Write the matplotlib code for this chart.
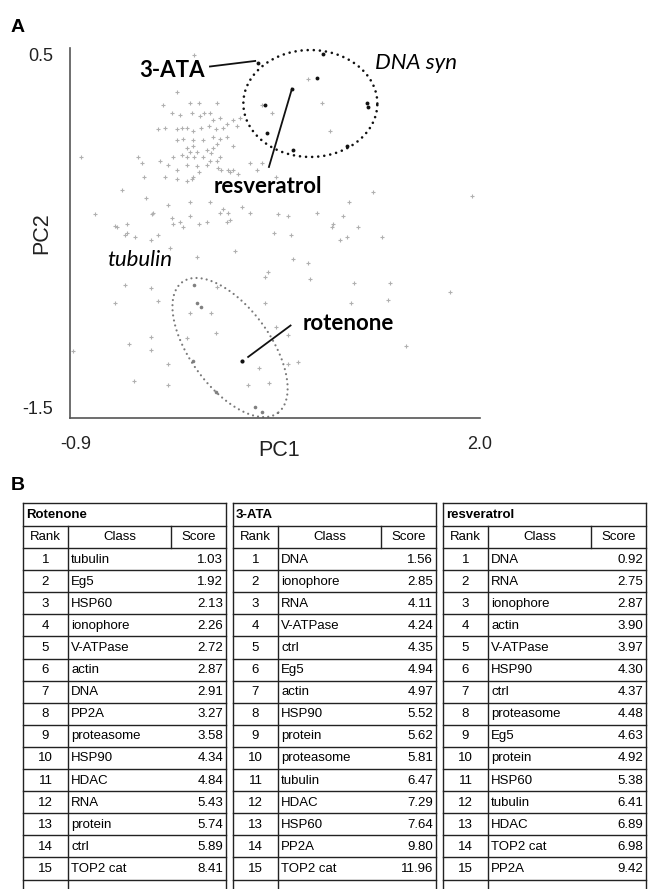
import numpy as np
import matplotlib
matplotlib.use("Agg")
import matplotlib.pyplot as plt
import matplotlib.transforms as mtransforms

# ---------------- data ----------------
grey_pts = [(-0.02,0.46),(-0.14,0.26),(-0.24,0.19),(-0.18,0.15),(-0.05,0.20),(0.01,0.20),(0.05,0.15),(0.09,0.15),
    (-0.28,0.06),(-0.23,0.07),(-0.14,0.06),(-0.11,0.07),(-0.07,0.07),(-0.03,0.05),(0.03,0.07),(0.08,0.08),(0.13,0.06),
    (0.11,0.11),(-0.14,0.00),(-0.10,0.01),(-0.03,0.00),(0.04,0.00),(0.11,0.02),(0.14,-0.02),(-0.07,-0.04),(-0.03,-0.03),
    (0.00,-0.06),(0.07,-0.05),(0.11,-0.04),(-0.17,-0.09),(-0.11,-0.08),(-0.07,-0.09),(-0.02,-0.09),(0.04,-0.09),
    (-0.82,-0.09),(-0.42,-0.09),(-0.26,-0.11),(-0.21,-0.13),(-0.07,-0.13),(0.00,-0.14),(0.07,-0.13),(0.14,-0.11),
    (0.14,0.20),(-0.12,0.14),(-0.04,0.15),(0.02,0.13),(0.16,0.12),(0.25,0.11),(0.18,0.07),(0.21,0.09),(0.28,0.08),
    (0.30,0.12),(0.46,0.19),(0.53,0.15),(0.16,0.01),(0.21,0.02),(0.25,-0.03),(-0.05,-0.06),(0.10,-0.07),(0.16,-0.09),
    (0.09,-0.11),(-0.14,-0.16),(0.01,-0.17),(0.15,-0.15),(0.22,-0.16),(0.25,-0.16),(0.37,-0.12),(0.46,-0.12),
    (-0.38,-0.20),(-0.23,-0.20),(-0.14,-0.21),(-0.07,-0.22),(-0.03,-0.20),(-0.53,-0.27),(-0.36,-0.31),(-0.21,-0.35),
    (-0.05,-0.33),(-0.72,-0.40),(-0.32,-0.40),(-0.18,-0.42),(-0.05,-0.41),(0.07,-0.44),(0.16,-0.39),(0.22,-0.39),
    (0.32,-0.36),(0.37,-0.39),(0.57,-0.40),(0.64,-0.41),(0.85,-0.39),(1.07,-0.33),(1.24,-0.28),(-0.58,-0.46),
    (-0.50,-0.45),(-0.17,-0.45),(-0.12,-0.44),(0.01,-0.45),(0.21,-0.44),(0.96,-0.45),(0.95,-0.47),(1.03,-0.41),
    (1.14,-0.47),(-0.51,-0.51),(-0.44,-0.52),(-0.28,-0.51),(-0.33,-0.54),(0.54,-0.50),(0.66,-0.51),(1.06,-0.52),
    (1.01,-0.54),(-0.19,-0.58),(0.27,-0.60),(0.78,-0.66),(0.00,-0.63),(0.48,-0.74),(0.80,-0.75),(-0.39,-0.12),
    (-0.04,-0.21),(0.09,-0.33),(-0.31,-0.39),(-0.10,-0.47),(-0.57,-0.47),(-0.50,-0.50),(-0.51,-0.78),(-0.33,-0.80),
    (0.17,-0.16),(0.23,-0.17),(0.29,-0.18),(0.42,-0.16),(0.56,-0.20),(0.18,-0.37),(0.23,-0.43),(1.31,-0.52),
    (0.68,-0.64),(0.50,-0.71),(1.11,-0.77),(0.14,-0.79),(-0.58,-0.88),(-0.28,-0.87),(-0.05,-0.93),(0.10,-0.93),
    (0.13,-1.04),(-0.33,-1.06),(-0.48,-1.10),(-0.33,-1.13),(-0.07,-1.07),(-0.21,-1.21),(-0.45,-1.30),(-0.21,-1.32),
    (0.48,-0.88),(1.09,-0.88),(1.35,-0.86),(0.56,-1.01),(0.64,-1.05),(0.71,-1.20),(0.64,-1.21),(0.44,-1.23),
    (0.36,-1.32),(0.51,-1.31),(-0.88,-1.14),(1.94,-0.30),(1.79,-0.82),(1.36,-0.77),(1.48,-1.11),(0.78,0.33),
    (0.88,0.20),(0.94,0.05)]
grey_x = [p[0] for p in grey_pts]
grey_y = [p[1] for p in grey_pts]

# DNA-synthesis class members (black)
dna_x = [0.43, 0.67, 0.85, 0.48, 1.20, 1.21, 1.06, 0.68, 0.49, 0.89]
dna_y = [0.42, 0.28, 0.34, 0.19, 0.20, 0.18, -0.03, -0.05, 0.04, 0.47]
# tubulin class members (dark grey)
tub_x = [-0.02, 0.00, 0.03, -0.03, 0.13, 0.41, 0.46]
tub_y = [-0.78, -0.88, -0.90, -1.19, -1.36, -1.44, -1.47]
# highlighted compounds
rot_pt = (0.32, -1.19)
ata_pt = (0.43, 0.42)
res_pt = (0.67, 0.28)

# table B
rot_classes = ["tubulin","Eg5","HSP60","ionophore","V-ATPase","actin","DNA","PP2A","proteasome",
               "HSP90","HDAC","RNA","protein","ctrl","TOP2 cat"]
rot_scores = [1.03,1.92,2.13,2.26,2.72,2.87,2.91,3.27,3.58,4.34,4.84,5.43,5.74,5.89,8.41]
ata_classes = ["DNA","ionophore","RNA","V-ATPase","ctrl","Eg5","actin","HSP90","protein",
               "proteasome","tubulin","HDAC","HSP60","PP2A","TOP2 cat"]
ata_scores = [1.56,2.85,4.11,4.24,4.35,4.94,4.97,5.52,5.62,5.81,6.47,7.29,7.64,9.80,11.96]
res_classes = ["DNA","RNA","ionophore","actin","V-ATPase","HSP90","ctrl","proteasome","Eg5",
               "protein","HSP60","tubulin","HDAC","TOP2 cat","PP2A"]
res_scores = [0.92,2.75,2.87,3.90,3.97,4.30,4.37,4.48,4.63,4.92,5.38,6.41,6.89,6.98,9.42]
table_titles = ["Rotenone", "3-ATA", "resveratrol"]
ranks = list(range(1, 16))

# ---------------- figure ----------------
W, H = 651, 889
fig = plt.figure(figsize=(W/100, H/100), dpi=100)
fig.patch.set_facecolor("white")

ov = fig.add_axes([0, 0, 1, 1])
ov.set_xlim(0, W); ov.set_ylim(H, 0); ov.axis("off")

ARIAL = ["Liberation Sans", "DejaVu Sans"]
CAL = ["Lato", "DejaVu Sans"]

# ---- panel A ----
ax_l, ax_r, ax_t, ax_b = 70, 480, 48, 418
ax = fig.add_axes([ax_l/W, 1-ax_b/H, (ax_r-ax_l)/W, (ax_b-ax_t)/H])
ax.patch.set_alpha(0)
ax.set_xlim(-0.9, 2.0)
ax.set_ylim(-1.5, 0.5)
for s in ["top", "right"]:
    ax.spines[s].set_visible(False)
for s in ["left", "bottom"]:
    ax.spines[s].set_color("#555555")
    ax.spines[s].set_linewidth(1.2)
ax.set_xticks([-0.9, 2.0]); ax.set_xticklabels(["-0.9", "2.0"])
ax.set_yticks([-1.5, 0.5]); ax.set_yticklabels(["-1.5", "0.5"])
ax.tick_params(length=0, labelsize=13, colors="#222222")
ax.tick_params(axis="x", pad=13)
ax.tick_params(axis="y", pad=12)
for lab in ax.get_xticklabels() + ax.get_yticklabels():
    lab.set_family(ARIAL)
ax.get_yticklabels()[0].set_va("bottom")
ax.get_yticklabels()[1].set_va("top")
xl0 = ax.get_xticklabels()[0]
xl0.set_transform(xl0.get_transform() + mtransforms.ScaledTranslation(6/100, 0, fig.dpi_scale_trans))

ax.plot(grey_x, grey_y, "+", color="#b0b0b0", ms=3.3, mew=0.8, clip_on=False)
ax.plot(tub_x, tub_y, "o", color="#808080", ms=2.6, mew=0)
ax.plot(dna_x, dna_y, "o", color="#111111", ms=2.8, mew=0)
ax.plot([rot_pt[0]], [rot_pt[1]], "o", color="#111111", ms=3, mew=0)

t = np.linspace(0, 2*np.pi, 400)
dna_c, dna_u, dna_v = (0.80, 0.20), (0.474, 0.0), (0.0, 0.289)
ex = dna_c[0] + dna_u[0]*np.cos(t) + dna_v[0]*np.sin(t)
ey = dna_c[1] + dna_u[1]*np.cos(t) + dna_v[1]*np.sin(t)
ax.plot(ex, ey, color="#111111", lw=1.9, ls=(0, (0.01, 2.3)), dash_capstyle="round")
tub_c, tub_u, tub_v = (0.232, -1.119), (0.337, -0.354), (-0.229, -0.127)
ex = tub_c[0] + tub_u[0]*np.cos(t) + tub_v[0]*np.sin(t)
ey = tub_c[1] + tub_u[1]*np.cos(t) + tub_v[1]*np.sin(t)
ax.plot(ex, ey, color="#7a7a7a", lw=1.6, ls=(0, (0.01, 2.3)), dash_capstyle="round", clip_on=False)

# annotations
ax.plot([0.09, 0.41], [0.40, 0.43], color="#111111", lw=1.3)
ax.plot([res_pt[0], 0.507], [res_pt[1], -0.143], color="#111111", lw=1.3)
ax.plot([0.36, 0.66], [-1.17, -1.00], color="#111111", lw=1.3)
ax.text(-0.18, 0.38, "3-ATA", family=CAL, weight="bold", fontsize=16, ha="center", va="center")
ax.text(0.50, -0.25, "resveratrol", family=CAL, weight="bold", fontsize=16, ha="center", va="center")
ax.text(1.07, -0.99, "rotenone", family=CAL, weight="bold", fontsize=16, ha="center", va="center")
ax.text(1.55, 0.42, "DNA syn", family=CAL, style="italic", fontsize=16, ha="center", va="center")
ax.text(-0.405, -0.645, "tubulin", family=CAL, style="italic", fontsize=16, ha="center", va="center")

ov.text(279, 450, "PC1", family=ARIAL, fontsize=15.5, ha="center", va="center", color="#222222")
ov.text(42, 233, "PC2", family=ARIAL, fontsize=15.5, ha="center", va="center", rotation=90, color="#222222")
ov.text(18, 27, "A", family=ARIAL, weight="bold", fontsize=14, ha="center", va="center")
ov.text(18, 486, "B", family=ARIAL, weight="bold", fontsize=14, ha="center", va="center")

# ---- panel B tables ----
tab_lefts = [23, 233, 443]
tab_w = 203
rank_w = 45
score_w = 55
top = 503
title_h = 22.5
head_h = 22.5
row_h = 22.1
lc = "#222222"
lw = 1.0
fs = 9.5
tables = [(rot_classes, rot_scores), (ata_classes, ata_scores), (res_classes, res_scores)]
for k, (cls, sc) in enumerate(tables):
    L = tab_lefts[k]; R = L + tab_w
    d1 = L + rank_w; d2 = R - score_w
    y_head = top + title_h
    y_data = y_head + head_h
    ov.plot([L, L], [top, H+2], color=lc, lw=lw, clip_on=False)
    ov.plot([R, R], [top, H+2], color=lc, lw=lw, clip_on=False)
    for yy in [top, y_head, y_data] + [y_data + row_h*(i+1) for i in range(len(cls))]:
        ov.plot([L, R], [yy, yy], color=lc, lw=lw)
    ov.plot([d1, d1], [y_head, H+2], color=lc, lw=lw, clip_on=False)
    ov.plot([d2, d2], [y_head, y_data], color=lc, lw=lw)
    ov.text(L+3, top + title_h/2 + 0.5, table_titles[k], family=ARIAL, weight="bold",
            fontsize=fs, ha="left", va="center")
    ov.text((L+d1)/2, y_head + head_h/2 + 0.5, "Rank", family=ARIAL, fontsize=fs, ha="center", va="center")
    ov.text((d1+d2)/2, y_head + head_h/2 + 0.5, "Class", family=ARIAL, fontsize=fs, ha="center", va="center")
    ov.text((d2+R)/2, y_head + head_h/2 + 0.5, "Score", family=ARIAL, fontsize=fs, ha="center", va="center")
    for i, (c, s) in enumerate(zip(cls, sc)):
        yc = y_data + row_h*(i+0.5) + 0.5
        ov.text((L+d1)/2, yc, str(ranks[i]), family=ARIAL, fontsize=fs, ha="center", va="center")
        ov.text(d1+3, yc, c, family=ARIAL, fontsize=fs, ha="left", va="center")
        ov.text(R-3, yc, f"{s:.2f}", family=ARIAL, fontsize=fs, ha="right", va="center")

fig.savefig("out.png", dpi=100, facecolor="white")
